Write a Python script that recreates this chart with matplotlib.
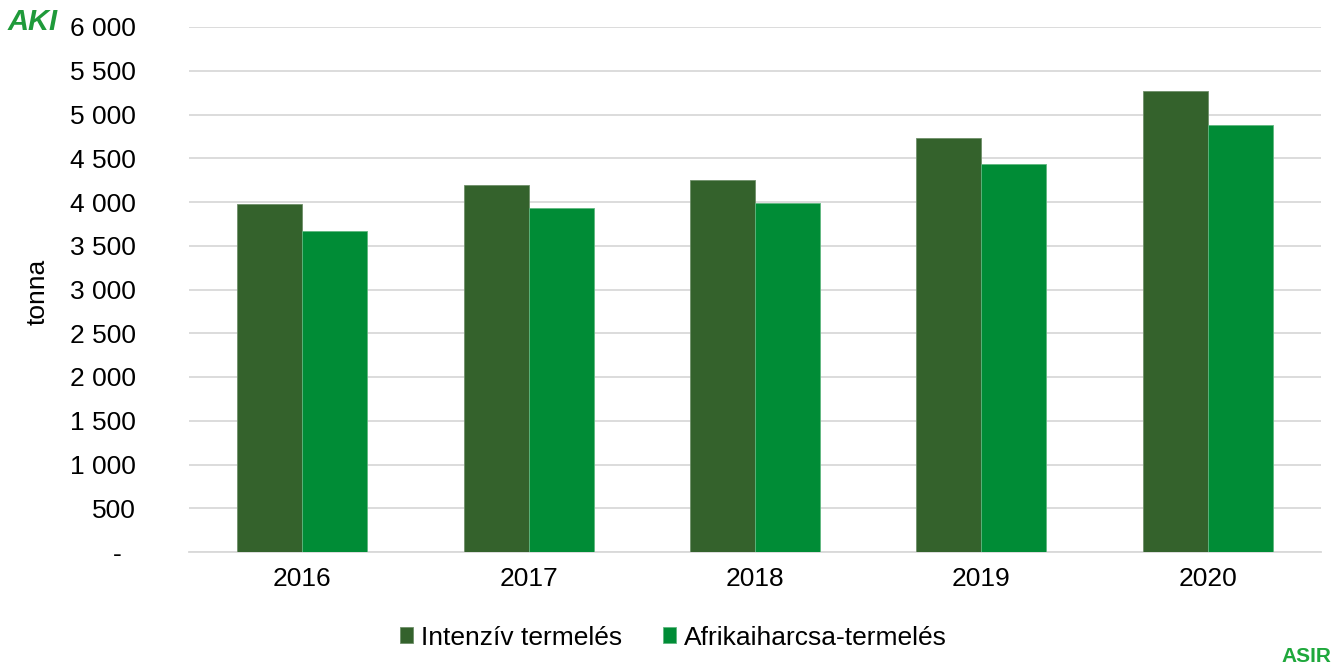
import matplotlib
matplotlib.use("Agg")
import matplotlib.pyplot as plt
import numpy as np

plt.rcParams["font.family"] = ["Liberation Sans", "DejaVu Sans"]

# adatok (tonna)
YEARS = ["2016", "2017", "2018", "2019", "2020"]
INTENZIV = [3980, 4200, 4250, 4735, 5270]
AFRIKAI = [3665, 3930, 3990, 4440, 4880]
YTICKS = [0, 500, 1000, 1500, 2000, 2500, 3000, 3500, 4000, 4500, 5000, 5500, 6000]
YTICK_LABELS = ["-  ", "500", "1 000", "1 500", "2 000", "2 500", "3 000",
                "3 500", "4 000", "4 500", "5 000", "5 500", "6 000"]

COL_DARK = "#34622c"
COL_GREEN = "#008c36"
FS = 19

fig = plt.figure(figsize=(13.41, 6.70), dpi=100)
ax = fig.add_axes([189 / 1341, 1 - 552 / 670, (1321 - 189) / 1341, (552 - 27) / 670])

x = np.arange(len(YEARS))
w = 0.287
ax.bar(x - w / 2, INTENZIV, width=w, color=COL_DARK, edgecolor="#6f8f69",
       linewidth=0.6, label="Intenzív termelés", zorder=3)
ax.bar(x + w / 2, AFRIKAI, width=w, color=COL_GREEN, edgecolor="#5fb77f",
       linewidth=0.6, label="Afrikaiharcsa-termelés", zorder=3)

ax.set_xlim(-0.5, len(YEARS) - 0.5)
ax.set_ylim(0, 6000)
ax.set_yticks(YTICKS)
ax.set_yticklabels(YTICK_LABELS)
ax.set_xticks(x)
ax.set_xticklabels(YEARS)
ax.tick_params(axis="y", length=0, pad=38, labelsize=FS)
ax.tick_params(axis="x", length=0, pad=11, labelsize=FS)

ax.grid(axis="y", color="#d9d9d9", linewidth=1.3, zorder=0)
for s in ["top", "right", "left"]:
    ax.spines[s].set_visible(False)
ax.spines["bottom"].set_color("#d9d9d9")
ax.spines["bottom"].set_linewidth(1.3)

fig.text(38 / 1341, 1 - 292 / 670, "tonna", rotation=90, ha="center", va="center",
         fontsize=FS)

ax.legend(loc="center", bbox_to_anchor=(0.428, -0.163), ncol=2, frameon=False,
          fontsize=FS, handlelength=0.5, handleheight=0.55, handletextpad=0.3,
          columnspacing=1.55)

# logók (egyszerűsített)
fig.text(8 / 1341, 1 - 22 / 670, "AKI", color="#1f9a3a", fontsize=21,
         fontweight="bold", fontstyle="italic", ha="left", va="center")
fig.text(1281 / 1341, 1 - 657 / 670, "ASIR", color="#1fa83c", fontsize=15,
         fontweight="bold", ha="left", va="center")

fig.savefig("out.png", dpi=100)
